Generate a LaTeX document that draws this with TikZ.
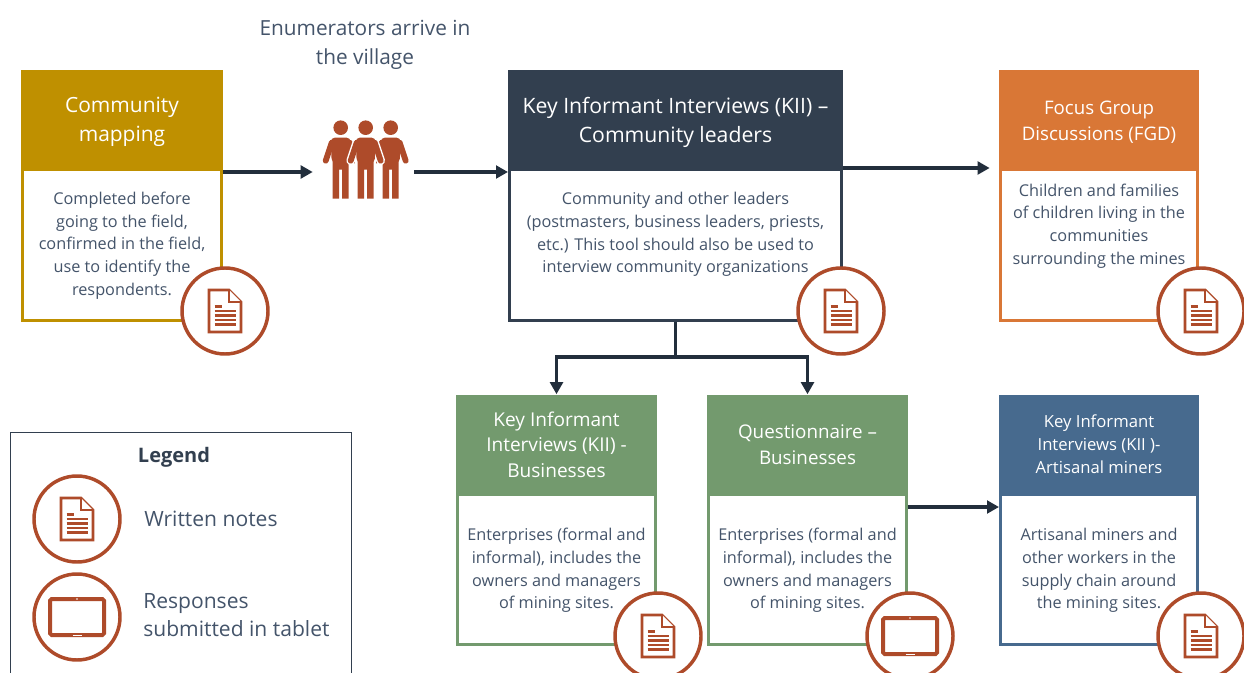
\documentclass[tikz,border=0pt]{standalone}
\usepackage{fontspec}
\setmainfont{Open Sans}
\usetikzlibrary{arrows.meta}

\definecolor{ink}{HTML}{44546A}
\definecolor{navy}{HTML}{323F4F}
\definecolor{arrowink}{HTML}{222E3C}
\definecolor{gold}{HTML}{BF9000}
\definecolor{orange}{HTML}{D97736}
\definecolor{sage}{HTML}{739A6E}
\definecolor{steel}{HTML}{476A8E}
\definecolor{rust}{HTML}{AE4B2A}

\newcommand{\lowerline}[1]{\rule{0pt}{#1}}

\tikzset{
    head/.style={fill=#1, text=white, inner sep=0pt, align=center, minimum height=75pt},
    body/.style={draw=#1, line width=2.25pt, fill=white, inner sep=0pt, minimum height=112.5pt},
    note/.style={text=ink, inner sep=0pt, align=center, font=\fontsize{12.2}{17}\selectfont},
    plain/.style={text=ink, inner sep=0pt, align=left, font=\fontsize{15.8}{21.6}\selectfont},
    badge/.style={circle, draw=rust, line width=2.6pt, fill=white, inner sep=0pt, minimum size=64.5pt},
    flowline/.style={draw=arrowink, line width=2.4pt},
    flow/.style={flowline, -{Triangle[length=9pt,width=9.5pt]}},
    docmark/.pic={
        \draw[rust, line width=2.1pt, line join=miter, fill=white] (-16,-21) -- (4,-21) -- (16,-9) -- (16,21) -- (-16,21) -- cycle;
        \draw[rust, line width=2.1pt, fill=white] (4,-21) -- (4,-9) -- (16,-9);
        \draw[rust, line width=1.6pt] (-10.5,-4.5) -- (-3,-4.5);
        \foreach \yy in {0,4.5,9,13.5} {
            \draw[rust, line width=1.6pt] (-10.5,\yy) -- (10.5,\yy);
        }
    },
    tabmark/.pic={
        \draw[rust, line width=3pt, rounded corners=1.2pt, fill=white] (-27,-18) rectangle (27,18);
        \draw[white, line width=.7pt] (-4.5,18) -- (4.5,18);
        \fill[white] (0,-18) circle (.6pt);
    },
    person/.pic={
        \fill[rust] (0,0) circle (7.3);
        \draw[white, line width=6.5pt, line cap=round] (-9,15) -- (-15,33);
        \draw[white, line width=6.5pt, line cap=round] (9,15) -- (15,33);
        \fill[white, draw=white, line width=2pt] (-9,11) -- (9,11) -- (9,45) -- (-9,45) -- cycle;
        \draw[rust, line width=4.4pt, line cap=round] (-9,15) -- (-15,33);
        \draw[rust, line width=4.4pt, line cap=round] (9,15) -- (15,33);
        \fill[rust, rounded corners=3pt] (-10,10) -- (10,10) -- (9,35) -- (-9,35) -- cycle;
        \fill[rust] (-8,30) -- (8,30) -- (8,71) -- (1.5,71) -- (1.5,42) -- (-1.5,42) -- (-1.5,71) -- (-8,71) -- cycle;
    }
}

\begin{document}
\begin{tikzpicture}[x=.75pt, y=-.75pt]
    \clip (0,0) rectangle (1244,673);

    \node[text=ink, inner sep=0pt, align=center, font=\fontsize{15.6}{22}\selectfont] (arrive) at (365,45) {Enumerators arrive in\\the village};

    % people
    \pic at (340.7,127.7) {person};
    \pic at (390.7,127.7) {person};
    \pic at (365.7,127.7) {person};
    \node[inner sep=0pt, minimum width=75.75pt, minimum height=5pt] (people) at (363.5,172) {};

    % top row
    \node[body=gold, minimum width=149.25pt] (mapbody) at (122,245) {};
    \node[head=gold, minimum width=151.5pt, font=\fontsize{15.7}{21.75}\selectfont] (maphead) at (122,120) {\lowerline{15pt}Community\\mapping};
    \node[note] (maptext) at (122,245.5) {Completed before\\going to the field,\\confirmed in the field,\\use to identify the\\respondents.};

    \node[body=navy, minimum width=249pt] (kiibody) at (675.5,245) {};
    \node[head=navy, minimum width=251.25pt, font=\fontsize{15.9}{21.75}\selectfont] (kiihead) at (675.5,120) {\lowerline{16pt}Key Informant Interviews (KII) --\\Community leaders};
    \node[note] (kiitext) at (675.5,234.5) {Community and other leaders\\(postmasters, business leaders, priests,\\etc.) This tool should also be used to\\interview community organizations};

    \node[body=orange, minimum width=147.75pt] (fgdbody) at (1099,245) {};
    \node[head=orange, minimum width=150pt, font=\fontsize{14}{19}\selectfont] (fgdhead) at (1099,120) {\lowerline{13.5pt}Focus Group\\Discussions (FGD)};
    \node[note] (fgdtext) at (1099,226) {Children and families\\of children living in the\\communities\\surrounding the mines};

    % bottom row
    \node[body=sage, minimum width=148.5pt] (bizbody) at (556.5,569.5) {};
    \node[head=sage, minimum width=150.75pt, font=\fontsize{14.3}{19}\selectfont] (bizhead) at (556.5,444.5) {Key Informant\\Interviews (KII) -\\Businesses};
    \node[note] (biztext) at (556.5,570.5) {Enterprises (formal and\\informal), includes the\\owners and managers\\of mining sites.};

    \node[body=sage, minimum width=148.5pt] (qbody) at (807.5,569.5) {};
    \node[head=sage, minimum width=150.75pt, font=\fontsize{14.1}{19.5}\selectfont] (qhead) at (807.5,444.5) {Questionnaire --\\Businesses};
    \node[note] (qtext) at (807.5,570.5) {Enterprises (formal and\\informal), includes the\\owners and managers\\of mining sites.};

    \node[body=steel, minimum width=147.75pt] (minebody) at (1099,569.5) {};
    \node[head=steel, minimum width=150pt, font=\fontsize{12.5}{17.25}\selectfont] (minehead) at (1099,444.5) {Key Informant\\Interviews (KII )-\\Artisanal miners};
    \node[note] (minetext) at (1099,570.5) {Artisanal miners and\\other workers in the\\supply chain around\\the mining sites.};

    % connectors
    \coordinate (upper) at (920,168);
    \coordinate (split) at (675.5,357);
    \coordinate (lower) at (950,507);
    \draw[flow] (mapbody.north east |- people.west) -- (people.west);
    \draw[flow] (people.east) -- (kiibody.west |- people.east);
    \draw[flow, shorten >=7pt] (kiibody.east |- upper) -- (fgdbody.west |- upper);
    \draw[flowline] (kiibody.south) -- (split);
    \draw[flow] (split) -| (bizhead.north);
    \draw[flow] (split) -| (qhead.north);
    \draw[flow] (qbody.east |- lower) -- (minebody.west |- lower);

    % badges
    \node[badge] (mapnote) at (225,311) {};
    \pic at (mapnote) {docmark};
    \node[badge] (kiinote) at (841,311) {};
    \pic at (kiinote) {docmark};
    \node[badge] (fgdnote) at (1201,311) {};
    \pic at (fgdnote) {docmark};
    \node[badge] (biznote) at (658,636) {};
    \pic at (biznote) {docmark};
    \node[badge] (qnote) at (910,636) {};
    \pic at (qnote) {tabmark};
    \node[badge] (minenote) at (1201,636) {};
    \pic at (minenote) {docmark};

    % legend
    \node[draw=navy, line width=.65pt, inner sep=0pt, minimum width=255.75pt, minimum height=225pt] (legend) at (180.5,582) {};
    \node[text=navy, inner sep=0pt, font=\fontsize{15}{18}\bfseries] (legendtitle) at (174,457) {Legend};
    \node[badge] (legendnote) at (77,519) {};
    \pic at (legendnote) {docmark};
    \node[badge] (legendtab) at (77,617) {};
    \pic at (legendtab) {tabmark};
    \node[plain, anchor=west] (notetext) at (144,519) {Written notes};
    \node[plain, anchor=west] (tabtext) at (143,615) {Responses\\submitted in tablet};
\end{tikzpicture}
\end{document}
